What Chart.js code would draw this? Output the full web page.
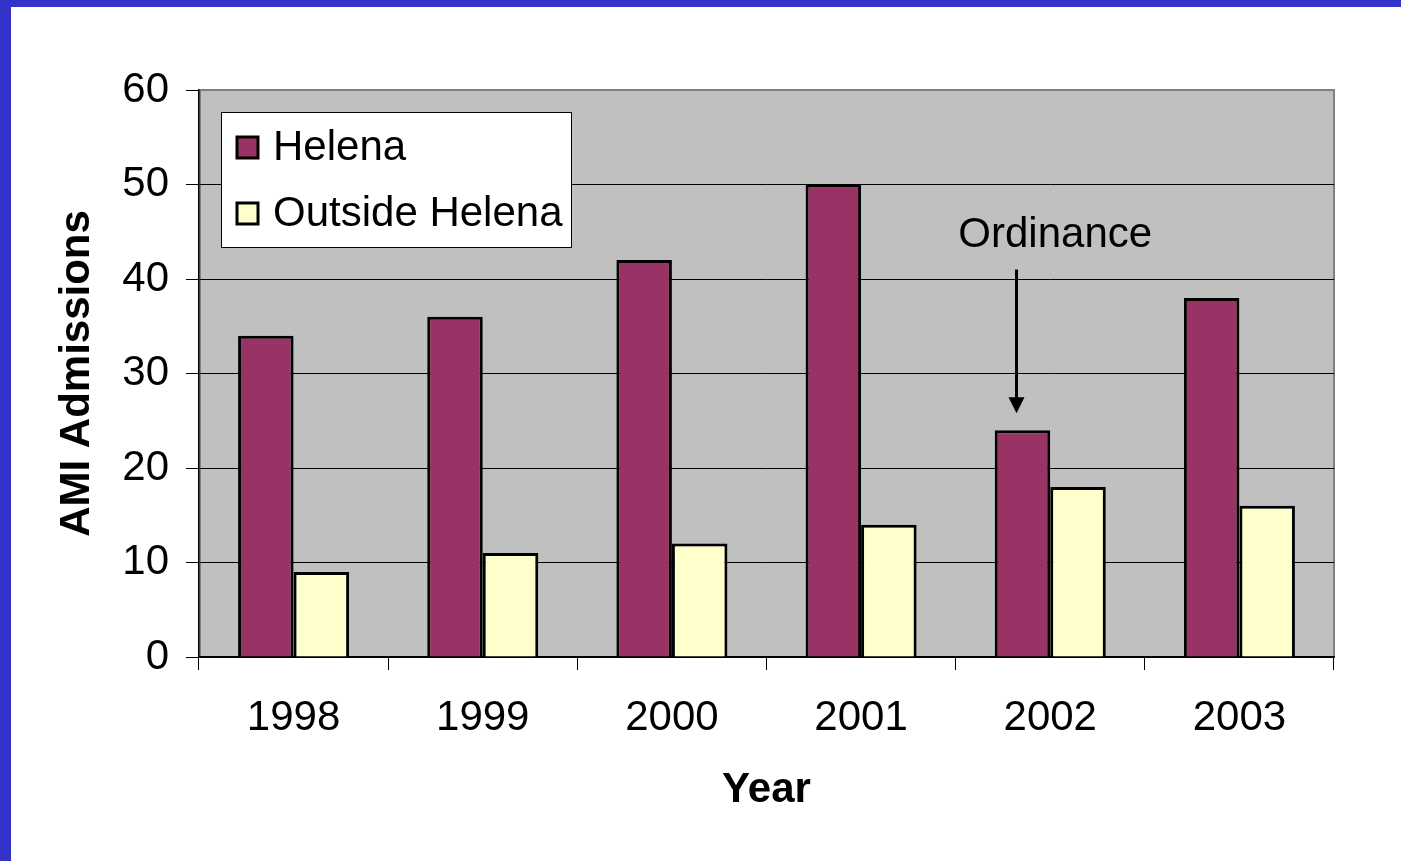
<!DOCTYPE html>
<html>
<head>
<meta charset="utf-8">
<script src="https://cdn.jsdelivr.net/npm/chart.js@4.4.0/dist/chart.umd.min.js"></script>
<style>
html, body { margin: 0; padding: 0; background: #fff; }
#frame { position: absolute; left: 0; top: 0; width: 1390px; height: 854px;
         border-left: 11px solid #3333CC; border-top: 7px solid #3333CC; }
canvas { display: block; }
</style>
</head>
<body>
<div id="frame"><canvas id="graph1" width="1390" height="854"></canvas></div>
<script>
// data
var years = ['1998', '1999', '2000', '2001', '2002', '2003'];
var helena = [34, 36, 42, 50, 24, 38];
var outsideHelena = [9, 11, 12, 14, 18, 16];
var yMin = 0, yMax = 60, yStep = 10;
var ordinanceYear = '2002';
var ordinanceText = 'Ordinance';
var ordinanceTextValue = 44.6;
var ordinanceArrowFrom = 41;
var ordinanceArrowTo = 25.8;

var FONT = '"Liberation Sans", Arial, sans-serif';
Chart.defaults.font.family = FONT;
Chart.defaults.color = '#000';

// gray plot background with a thin gray frame
var plotBackground = {
    id: 'plotBackground',
    beforeDraw: function (chart) {
        var a = chart.chartArea, c = chart.ctx;
        c.save();
        c.fillStyle = '#C0C0C0';
        c.fillRect(a.left, a.top, a.right - a.left, a.bottom - a.top);
        c.strokeStyle = '#808080';
        c.lineWidth = 2;
        c.strokeRect(a.left + 1, a.top, a.right - a.left - 1, a.bottom - a.top);
        c.restore();
    }
};

// legend box drawn inside the plot, top left
var insideLegend = {
    id: 'insideLegend',
    afterDraw: function (chart) {
        var a = chart.chartArea, c = chart.ctx;
        var x = a.left + 22, y = a.top + 22, w = 350, h = 135;
        c.save();
        c.fillStyle = '#fff';
        c.fillRect(x, y, w, h);
        c.strokeStyle = '#000';
        c.lineWidth = 1;
        c.strokeRect(x + 0.5, y + 0.5, w, h);
        c.font = '42px ' + FONT;
        c.textBaseline = 'middle';
        var rows = [35, 101];
        chart.data.datasets.forEach(function (ds, i) {
            var cy = y + rows[i];
            c.fillStyle = ds.backgroundColor;
            c.fillRect(x + 16, cy - 10, 21, 21);
            c.lineWidth = 3;
            c.strokeStyle = '#000';
            c.strokeRect(x + 16, cy - 10, 21, 21);
            c.fillStyle = '#000';
            c.fillText(ds.label, x + 52, cy + 1);
        });
        c.restore();
    }
};

// "Ordinance" note with an arrow pointing at the 2002 bar
var ordinanceNote = {
    id: 'ordinanceNote',
    afterDraw: function (chart) {
        var c = chart.ctx;
        var xs = chart.scales.x, ys = chart.scales.y;
        var idx = years.indexOf(ordinanceYear);
        var bar = chart.getDatasetMeta(0).data[idx];
        var ax = bar.x - 6;
        var y1 = ys.getPixelForValue(ordinanceArrowFrom);
        var y2 = ys.getPixelForValue(ordinanceArrowTo);
        c.save();
        c.fillStyle = '#000';
        c.font = '42px ' + FONT;
        c.textAlign = 'center';
        c.textBaseline = 'middle';
        c.fillText(ordinanceText, xs.getPixelForValue(idx) + 5, ys.getPixelForValue(ordinanceTextValue));
        c.strokeStyle = '#000';
        c.lineWidth = 3;
        c.beginPath();
        c.moveTo(ax, y1);
        c.lineTo(ax, y2 - 14);
        c.stroke();
        c.beginPath();
        c.moveTo(ax - 8, y2 - 16);
        c.lineTo(ax + 8, y2 - 16);
        c.lineTo(ax, y2);
        c.closePath();
        c.fill();
        c.restore();
    }
};

var ctx = document.getElementById('graph1').getContext('2d');
var config = {
    type: 'bar',
    data: {
        labels: years,
        datasets: [
            {
                label: 'Helena',
                data: helena,
                backgroundColor: '#993366',
                borderColor: '#000',
                borderWidth: 3
            },
            {
                label: 'Outside Helena',
                data: outsideHelena,
                backgroundColor: '#FFFFCC',
                borderColor: '#000',
                borderWidth: 3
            }
        ]
    },
    options: {
        responsive: false,
        animation: false,
        layout: { padding: { left: 37, right: 67, top: 83, bottom: 41 } },
        datasets: { bar: { categoryPercentage: 0.587, barPercentage: 1.0 } },
        plugins: {
            legend: { display: false },
            tooltip: { enabled: false }
        },
        scales: {
            x: {
                offset: true,
                grid: { display: true, drawOnChartArea: false, offset: true, tickLength: 13, color: '#000', lineWidth: 1 },
                border: { color: '#000', width: 1.5 },
                ticks: { font: { size: 42 }, color: '#000', padding: 23, maxRotation: 0 },
                title: { display: true, text: 'Year', font: { size: 42, weight: 'bold' }, color: '#000', padding: 4 },
                afterFit: function (s) { s.height = 163; }
            },
            y: {
                min: yMin,
                max: yMax,
                ticks: { stepSize: yStep, font: { size: 42 }, color: '#000', padding: 17 },
                grid: {
                    color: function (c) { return c.tick && c.tick.value === yMax ? '#808080' : '#000'; },
                    tickColor: '#000',
                    lineWidth: 1,
                    tickLength: 13
                },
                border: { color: '#000', width: 1.5 },
                title: { display: true, text: 'AMI Admissions', font: { size: 42, weight: 'bold' }, color: '#000', padding: 4 },
                afterFit: function (s) { s.width = 151; }
            }
        }
    },
    plugins: [plotBackground, insideLegend, ordinanceNote]
};
var graph1 = new Chart(ctx, config);
</script>
</body>
</html>
